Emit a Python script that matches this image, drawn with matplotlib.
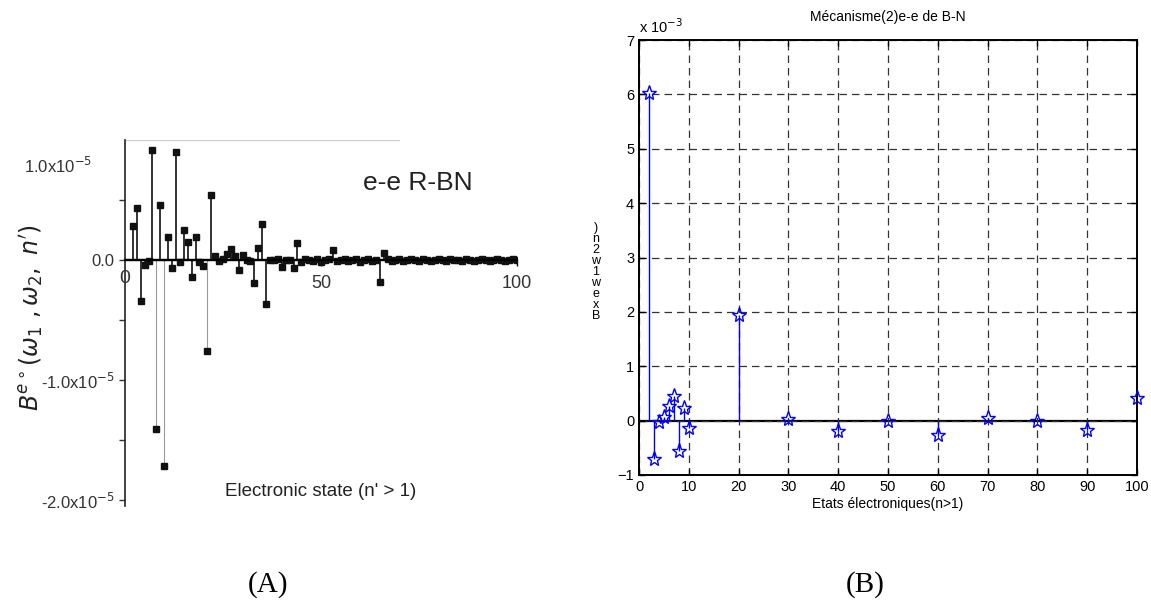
import matplotlib.pyplot as plt

# ---------- data ----------
# (A) e-e R-BN, values in units of 1e-5, states n' = 2..100
states_a = list(range(2, 101))
values_a = [
    0.28, 0.43, -0.34, -0.04, -0.01, 0.92, -1.41, 0.46, -1.72,        # 2-10
    0.19, -0.07, 0.90, -0.02, 0.25, 0.15, -0.14, 0.19, -0.02, -0.05,  # 11-20
    -0.76, 0.54, 0.03, -0.01, 0.01, 0.05, 0.09, 0.03, -0.08, 0.04,    # 21-30
    0.00, -0.01, -0.19, 0.10, 0.30, -0.37, 0.00, 0.00, 0.01, -0.06,   # 31-40
    0.00, 0.00, -0.07, 0.14, -0.02, 0.01, 0.00, -0.01, 0.01, -0.02,   # 41-50
    0.00, 0.01, 0.08, -0.01, 0.00, 0.01, -0.01, 0.00, 0.01, -0.02,    # 51-60
    0.00, 0.01, -0.01, 0.00, -0.18, 0.06, 0.01, -0.01, 0.00, 0.01,    # 61-70
    -0.01, 0.00, 0.01, 0.00, -0.01, 0.01, 0.00, -0.01, 0.00, 0.01,    # 71-80
    0.00, -0.01, 0.01, 0.00, 0.00, -0.01, 0.01, 0.00, -0.01, 0.00,    # 81-90
    0.01, 0.00, -0.01, 0.00, 0.01, 0.00, -0.01, 0.00, 0.01, 0.00,     # 91-100
]
faint_a = [8, 10, 21]  # stems that came out pale in print

# (B) Mecanisme(2) e-e de B-N, values in units of 1e-3
states_b = [2, 3, 4, 5, 6, 7, 8, 9, 10, 20, 30, 40, 50, 60, 70, 80, 90, 100]
values_b = [6.03, -0.70, -0.03, 0.06, 0.27, 0.46, -0.56, 0.24, -0.13,
            1.95, 0.03, -0.19, -0.01, -0.26, 0.05, 0.00, -0.18, 0.41]

W, H = 1151, 603
fig = plt.figure(figsize=(W / 100, H / 100), dpi=100)
plt.rcParams['font.family'] = ['Liberation Sans', 'DejaVu Sans']


def fx(px):
    return px / W


def fy(py):
    return 1 - py / H


# ---------- panel A ----------
axa = fig.add_axes([fx(125), fy(506), fx(517) - fx(125), fy(140) - fy(506)])
axa.set_xlim(0, 100)
axa.set_ylim(-2.05, 1.0)
for n, v in zip(states_a, values_a):
    c, lw = ('#9a9a9a', 0.8) if n in faint_a else ('#111111', 1.2)
    axa.vlines(n, 0, v, color=c, lw=lw)
axa.plot(states_a, values_a, 's', color='#111111', ms=5)
axa.axhline(0, color='#111111', lw=1.6)
axa.plot([0, 70], [1.0, 1.0], color='#cfcfcf', lw=1.0)

for s in ['top', 'right']:
    axa.spines[s].set_visible(False)
axa.spines['bottom'].set_position(('data', 0))
axa.spines['bottom'].set_linewidth(1.6)
axa.spines['left'].set_linewidth(1.2)
axa.spines['left'].set_color('#222222')
axa.set_yticks([-2.0, -1.5, -1.0, -0.5, 0.0, 0.5])
axa.set_yticklabels([r'-2.0x10$^{-5}$', '', r'-1.0x10$^{-5}$', '', '0.0', ''],
                    fontsize=12, color='#333333')
axa.tick_params(axis='y', direction='out', length=4, width=1, color='#333333')
axa.set_xticks([50, 100])
axa.set_xticklabels(['50', '100'], fontsize=13, color='#333333')
axa.tick_params(axis='x', direction='out', length=4, width=1, pad=7)
axa.text(0, -0.08, '0', ha='center', va='top', fontsize=14, color='#333333')
fig.text(fx(58), fy(166), r'1.0x10$^{-5}$', ha='center', va='center',
         fontsize=12, color='#333333')
fig.text(fx(418), fy(183), 'e-e R-BN', ha='center', va='center',
         fontsize=19, color='#222222')
fig.text(fx(321), fy(492), "Electronic state (n' > 1)", ha='center',
         va='center', fontsize=13.5, color='#222222')
fig.text(fx(32), fy(318), r"$B^{e\circ}(\omega_1\ ,\omega_2,\ n')$",
         rotation=90, ha='center', va='center', fontsize=17, color='#222222')

# ---------- panel B ----------
axb = fig.add_axes([fx(639), fy(475), fx(1137) - fx(639), fy(40) - fy(475)])
axb.set_xlim(0, 100)
axb.set_ylim(-1, 7)
markerline, stemlines, baseline = axb.stem(states_b, values_b, linefmt='b-',
                                           markerfmt='b*', basefmt=' ')
stemlines.set_linewidth(1.0)
markerline.set_markerfacecolor('none')
markerline.set_markersize(11)
markerline.set_markeredgewidth(1.0)
markerline.set_clip_on(False)
markerline.set_zorder(4)
axb.axhline(0, color='black', lw=1.6, zorder=1)

axb.set_xticks(range(0, 101, 10))
axb.set_yticks(range(-1, 8))
axb.grid(True, color='#333333', linestyle=(0, (6, 4)), lw=0.9)
axb.tick_params(direction='in', length=4, top=True, right=True,
                labelsize=10.5, width=1)
for s in axb.spines.values():
    s.set_linewidth(1.4)
axb.set_title('Mécanisme(2)e-e de B-N', fontsize=10, pad=14)
axb.set_xlabel('Etats électroniques(n>1)', fontsize=10, labelpad=2)
axb.text(0.0, 1.01, r'x 10$^{-3}$', transform=axb.transAxes, ha='left',
         va='bottom', fontsize=10.5)

# y label of B, characters stacked vertically
label_chars = [')', 'n', '2', 'w', '1', 'w', 'e', 'x', 'B']
fig.text(fx(596), fy(272), '\n'.join(label_chars), ha='center', va='center',
         fontsize=9, linespacing=0.9)

# ---------- panel tags ----------
fig.text(fx(268), fy(585), '(A)', ha='center', va='center', fontsize=21,
         family='Liberation Serif')
fig.text(fx(865), fy(585), '(B)', ha='center', va='center', fontsize=21,
         family='Liberation Serif')

fig.savefig('out.png', dpi=100)
